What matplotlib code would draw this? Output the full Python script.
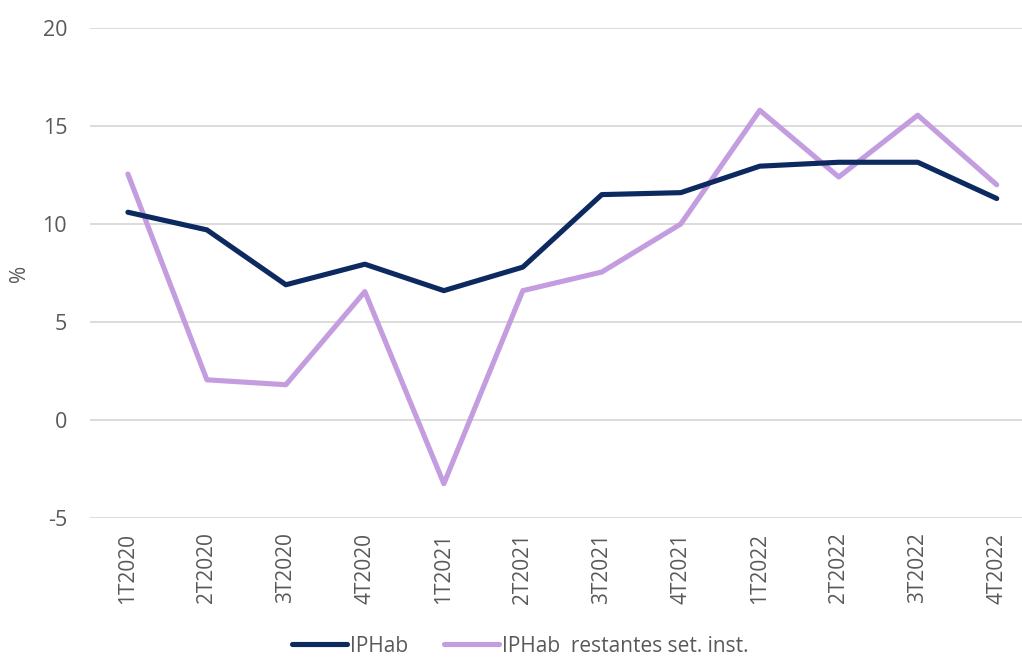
import matplotlib
matplotlib.use("Agg")
import matplotlib.pyplot as plt

plt.rcParams['font.family'] = ['Open Sans', 'DejaVu Sans']
plt.rcParams['axes.unicode_minus'] = False

quarters = ["1T2020", "2T2020", "3T2020", "4T2020", "1T2021", "2T2021",
            "3T2021", "4T2021", "1T2022", "2T2022", "3T2022", "4T2022"]
iphab = [10.6, 9.7, 6.9, 7.95, 6.6, 7.8, 11.5, 11.6, 12.95, 13.15, 13.15, 11.3]
iphab_rest = [12.55, 2.05, 1.8, 6.55, -3.25, 6.6, 7.55, 10.0, 15.8, 12.4, 15.55, 12.0]

grey = '#595959'

fig = plt.figure(figsize=(10.22, 6.57), dpi=100)
ax = fig.add_axes([90 / 1022, 139 / 657, 1 - 90 / 1022, 490 / 657])

x = range(len(quarters))
ax.plot(x, iphab, color='#0c2a60', lw=3.7, solid_capstyle='round',
        solid_joinstyle='round', label='IPHab', zorder=3)
ax.plot(x, iphab_rest, color='#c39ddf', lw=3.7, solid_capstyle='round',
        solid_joinstyle='round', label='IPHab  restantes set. inst.', zorder=2)

ax.set_xlim(-0.48, 11.32)
ax.set_ylim(-5, 20)
ax.set_yticks([-5, 0, 5, 10, 15, 20])
ax.set_xticks(list(x))
ax.set_xticklabels(quarters, rotation=90, color=grey, fontsize=15)
ax.tick_params(axis='y', colors=grey, labelsize=15.5, length=0, pad=16.5)
ax.tick_params(axis='x', length=0, pad=10.5)
ax.grid(axis='y', color='#d9d9d9', lw=1.3)
ax.set_axisbelow(True)
for s in ax.spines.values():
    s.set_visible(False)

fig.text(20 / 1022, 1 - 273 / 657, '%', rotation=90, color=grey,
         fontsize=15, ha='center', va='center')

fig.legend(loc='center', bbox_to_anchor=(520 / 1022, 1 - 646 / 657),
           ncol=2, frameon=False, fontsize=15, labelcolor=grey,
           handlelength=2.65, handletextpad=0.15, columnspacing=1.7)

fig.savefig('out.png', dpi=100)
